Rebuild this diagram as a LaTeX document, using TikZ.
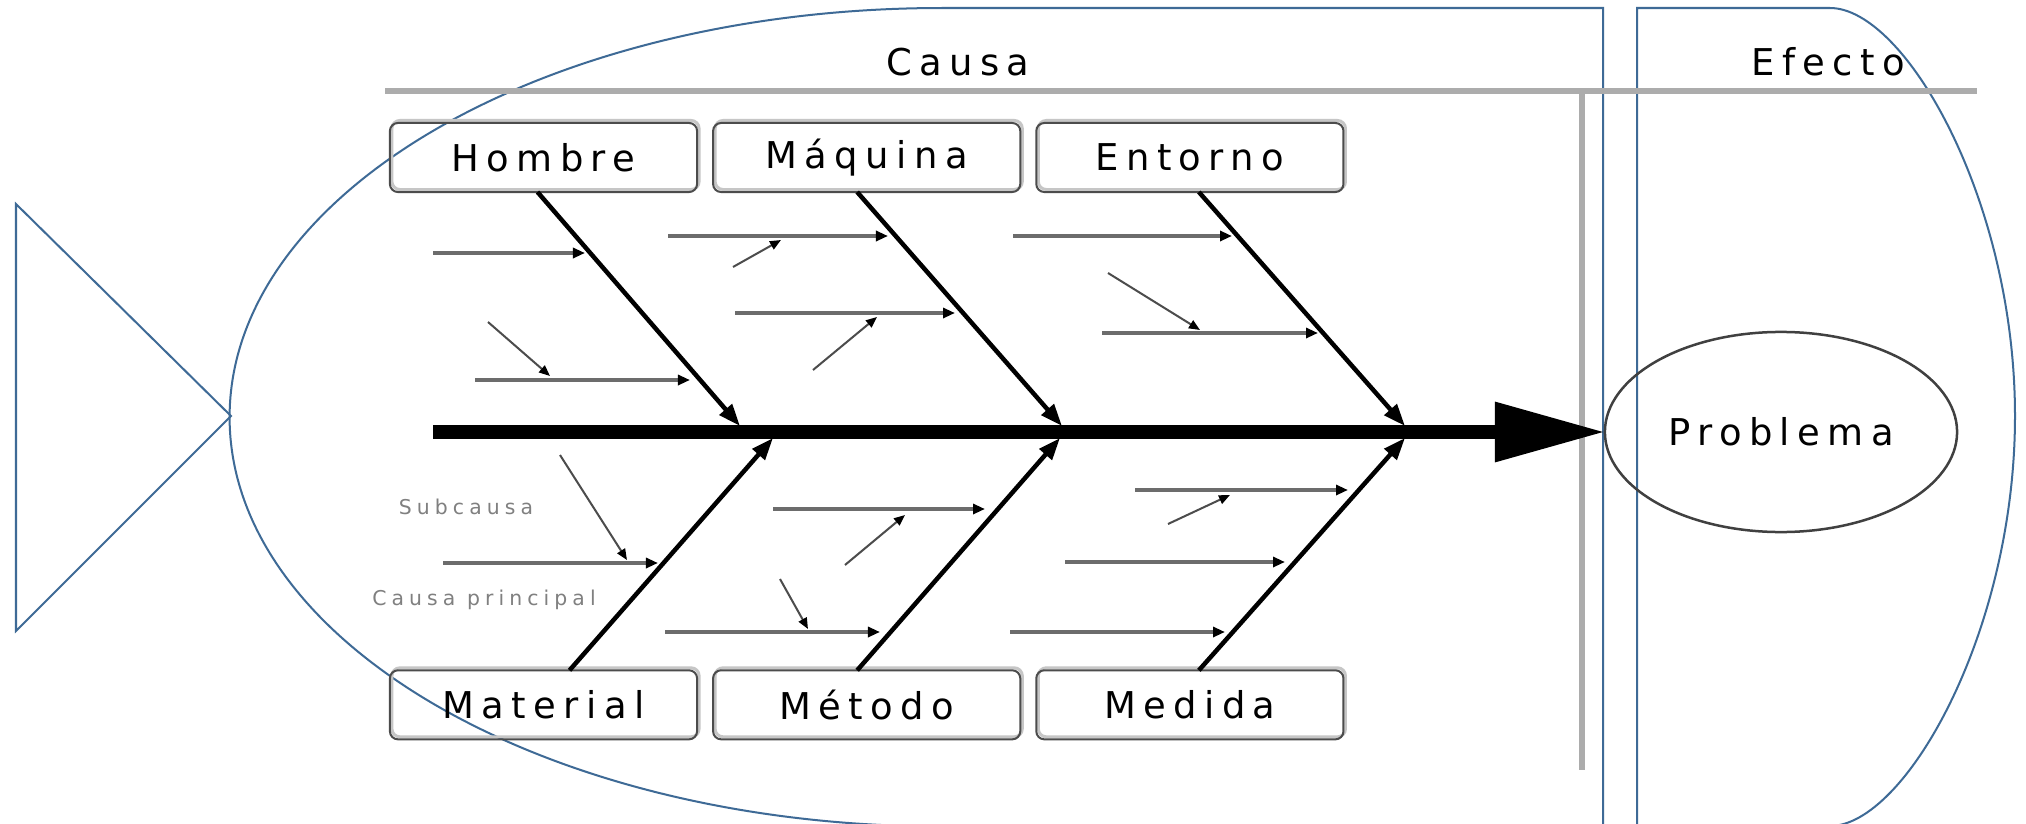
\documentclass[tikz,border=0pt]{standalone}
\usepackage{fontspec}
\usepackage{xcolor}
\usepackage{tikz}
\usetikzlibrary{positioning}
\usetikzlibrary{arrows.meta}
\usetikzlibrary{shapes.geometric}
\usetikzlibrary{shadows}

\newfontfamily\diagfont[LetterSpace=20]{DejaVu Sans}
\newfontfamily\notefont[LetterSpace=25]{DejaVu Sans}
\definecolor{fishblue}{RGB}{62,106,150}

\begin{document}
\begin{tikzpicture}[x=0.01cm, y=-0.01cm]

        \def\gap{.16cm}
        \def\drop{4.78cm}

        % looks of the lines and boxes
        \tikzset{
            fish/.style={draw=fishblue, line width=.02cm},
            frame/.style={draw=gray!65, line width=.06cm},
            cat/.style={rectangle, rounded corners=.08cm, draw=black!70,
                line width=.02cm, minimum width=3.07cm, minimum height=.69cm,
                outer sep=0pt, font=\diagfont\fontsize{10.5}{12}\selectfont,
                general shadow={draw=gray!45, line width=.03cm,
                    shadow xshift=.02cm, shadow yshift=.025cm}},
            title/.style={font=\diagfont\fontsize{10.5}{12}\selectfont},
            note/.style={font=\notefont\fontsize{5.8}{7}\selectfont, text=gray},
            spine/.style={line width=.13cm,
                -{Triangle[length=1.1cm, width=.57cm]}},
            bone/.style={line width=.045cm,
                -{Triangle[length=.22cm, width=.16cm]}},
            sub/.style={draw=gray!85!black, line width=.035cm,
                -{Triangle[length=.12cm, width=.1cm, color=black]}},
            twig/.style={draw=black!70, line width=.02cm,
                -{Triangle[length=.11cm, width=.09cm, color=black]}}
        }

        \useasboundingbox (0,0) rectangle (2026,824);
        \fill[white] (0,0) rectangle (2026,824);

        % the fish outline
        \begin{scope}
            \draw[fish] (16,204) -- (231,416) -- (16,631) -- cycle;
            \draw[fish] (1603,826) -- (1603,8) -- (942,8)
                arc[start angle=90, end angle=270,
                    x radius=7.12cm, y radius=4.09cm] -- (1603,826);
            \draw[fish] (1637,826) -- (1637,8) -- (1830,8)
                .. controls (1905,8) and (2015,200) .. (2015,416)
                .. controls (2015,632) and (1905,826) .. (1830,826);
        \end{scope}

        \draw[frame] (385,91) -- (1977,91);
        \draw[frame] (1582,91) -- (1582,770);

        \node[title] (causa) at (958,62) {Causa};
        \node[title] (efecto) at (1828,62) {Efecto};

        % categories
        \node[cat] (hombre) at (543.5,157.5) {Hombre};
        \node[cat] (maquina) [right=\gap of hombre] {Máquina};
        \node[cat] (entorno) [right=\gap of maquina] {Entorno};
        \node[cat] (material) [below=\drop of hombre] {Material};
        \node[cat] (metodo) [right=\gap of material] {Método};
        \node[cat] (medida) [right=\gap of metodo] {Medida};

        \node[ellipse, draw=black!75, line width=.025cm, outer sep=0pt,
            minimum width=3.52cm, minimum height=2cm, title]
            (problema) at (1781,432) {Problema};

        \node[note] (subcausa) at (466,507) {Subcausa};
        \node[note] (principal) at (484,600) {Causa principal};

        \coordinate (cola) at (433,432);
        \coordinate (tH) at (740,426);
        \coordinate (tQ) at (1062,426);
        \coordinate (tE) at (1405,426);
        \coordinate (tL) at (773,438);
        \coordinate (tT) at (1060,438);
        \coordinate (tD) at (1405,438);

        \begin{scope}
            \draw[spine] (cola) -- (problema.west);

            \draw[bone] ([xshift=-.06cm]hombre.south) -- (tH);
            \draw[bone] ([xshift=-.095cm]maquina.south) -- (tQ);
            \draw[bone] ([xshift=.09cm]entorno.south) -- (tE);
            \draw[bone] ([xshift=.26cm]material.north) -- (tL);
            \draw[bone] ([xshift=-.095cm]metodo.north) -- (tT);
            \draw[bone] ([xshift=.09cm]medida.north) -- (tD);

            \foreach \a/\b/\y [count=\i] in {433/585/253, 475/690/380,
                668/888/236, 735/955/313, 1013/1232/236, 1102/1318/333,
                443/658/563, 773/985/509, 665/880/632, 1135/1348/490,
                1065/1285/562, 1010/1225/632}
            {
                \coordinate (s\i) at (\a,\y);
                \coordinate (e\i) at (\b,\y);
                \draw[sub] (s\i) -- (e\i);
            }

            \foreach \a/\b/\c/\d [count=\i] in {488/322/550/376,
                733/267/781/240, 813/370/877/317, 1108/273/1200/330,
                560/455/627/560, 845/565/905/515, 780/579/808/629,
                1168/524/1230/495}
            {
                \coordinate (p\i) at (\a,\b);
                \coordinate (q\i) at (\c,\d);
                \draw[twig] (p\i) -- (q\i);
            }
        \end{scope}

\end{tikzpicture}
\end{document}
